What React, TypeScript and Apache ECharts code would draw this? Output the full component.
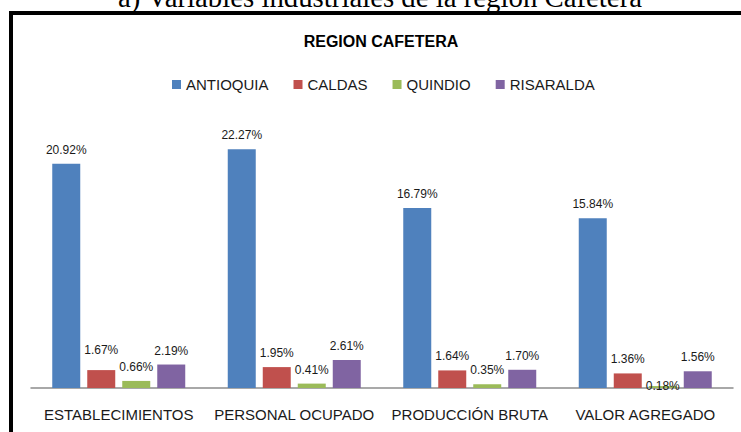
import React, { useEffect, useRef } from "react";
import * as echarts from "echarts";

const categories = ["ESTABLECIMIENTOS", "PERSONAL OCUPADO", "PRODUCCIÓN BRUTA", "VALOR AGREGADO"];
const seriesNames = ["ANTIOQUIA", "CALDAS", "QUINDIO", "RISARALDA"];
const antioquia = [20.92, 22.27, 16.79, 15.84];
const caldas = [1.67, 1.95, 1.64, 1.36];
const quindio = [0.66, 0.41, 0.35, 0.18];
const risaralda = [2.19, 2.61, 1.7, 1.56];

const colors = ["#4F81BD", "#C0504D", "#9BBB59", "#8064A2"];
// label distance tweaks (series index -> category index -> distance)
const labelNudges: Record<number, Record<number, number>> = {
  1: { 0: 14 },
  2: { 3: -6 },
};

export default function App() {
  const ref = useRef<HTMLDivElement>(null);
  useEffect(() => {
    document.body.style.margin = "0";
    const chart = echarts.init(ref.current!, null, { renderer: "svg" });
    const allValues = [antioquia, caldas, quindio, risaralda];
    const font = "'Liberation Sans', Arial, sans-serif";
    chart.setOption({
      animation: false,
      backgroundColor: "#ffffff",
      graphic: [
        {
          type: "rect",
          shape: { x: 11, y: 13, width: 800, height: 500 },
          style: { fill: "none", stroke: "#000", lineWidth: 4 },
          silent: true,
        },
        {
          type: "text",
          x: 380,
          y: -3,
          style: {
            text: "a) Variables industriales de la región Cafetera",
            fontFamily: "'Liberation Serif', 'Times New Roman', serif",
            fontSize: 28.8,
            fill: "#000",
            align: "center",
            verticalAlign: "middle",
          },
          silent: true,
        },
      ],
      title: {
        text: "REGION CAFETERA",
        left: 381,
        top: 41,
        textAlign: "center",
        textVerticalAlign: "middle",
        padding: 0,
        textStyle: { fontFamily: font, fontSize: 16, fontWeight: "bold", color: "#000" },
      },
      legend: {
        data: seriesNames,
        left: 172,
        top: 77,
        padding: 0,
        itemWidth: 9,
        itemHeight: 9,
        itemGap: 25,
        icon: "rect",
        textStyle: { fontFamily: font, fontSize: 15, color: "#1a1a1a", padding: [0, 0, 0, 0] },
      },
      grid: { left: 31, right: 8, top: 120, bottom: 44, containLabel: false },
      xAxis: {
        type: "category",
        data: categories,
        axisLine: { lineStyle: { color: "#8c8c8c", width: 1.5 } },
        axisTick: { show: false },
        axisLabel: {
          fontFamily: font,
          fontSize: 15,
          color: "#1a1a1a",
          margin: 19,
          interval: 0,
        },
      },
      yAxis: {
        type: "value",
        min: 0,
        max: 25,
        show: false,
        splitLine: { show: false },
      },
      series: seriesNames.map((name, si) => ({
        name,
        type: "bar",
        barWidth: 28,
        barGap: "25%",
        itemStyle: { color: colors[si] },
        label: {
          show: true,
          position: "top",
          distance: 8,
          fontFamily: font,
          fontSize: 12,
          color: "#1a1a1a",
          formatter: (p: any) => Number(p.value).toFixed(2) + "%",
        },
        data: allValues[si].map((v, ci) => {
          const d = labelNudges[si] && labelNudges[si][ci];
          return d !== undefined ? { value: v, label: { distance: d } } : v;
        }),
      })),
    });
    return () => chart.dispose();
  }, []);
  return <div ref={ref} style={{ width: 741, height: 432 }} />;
}
